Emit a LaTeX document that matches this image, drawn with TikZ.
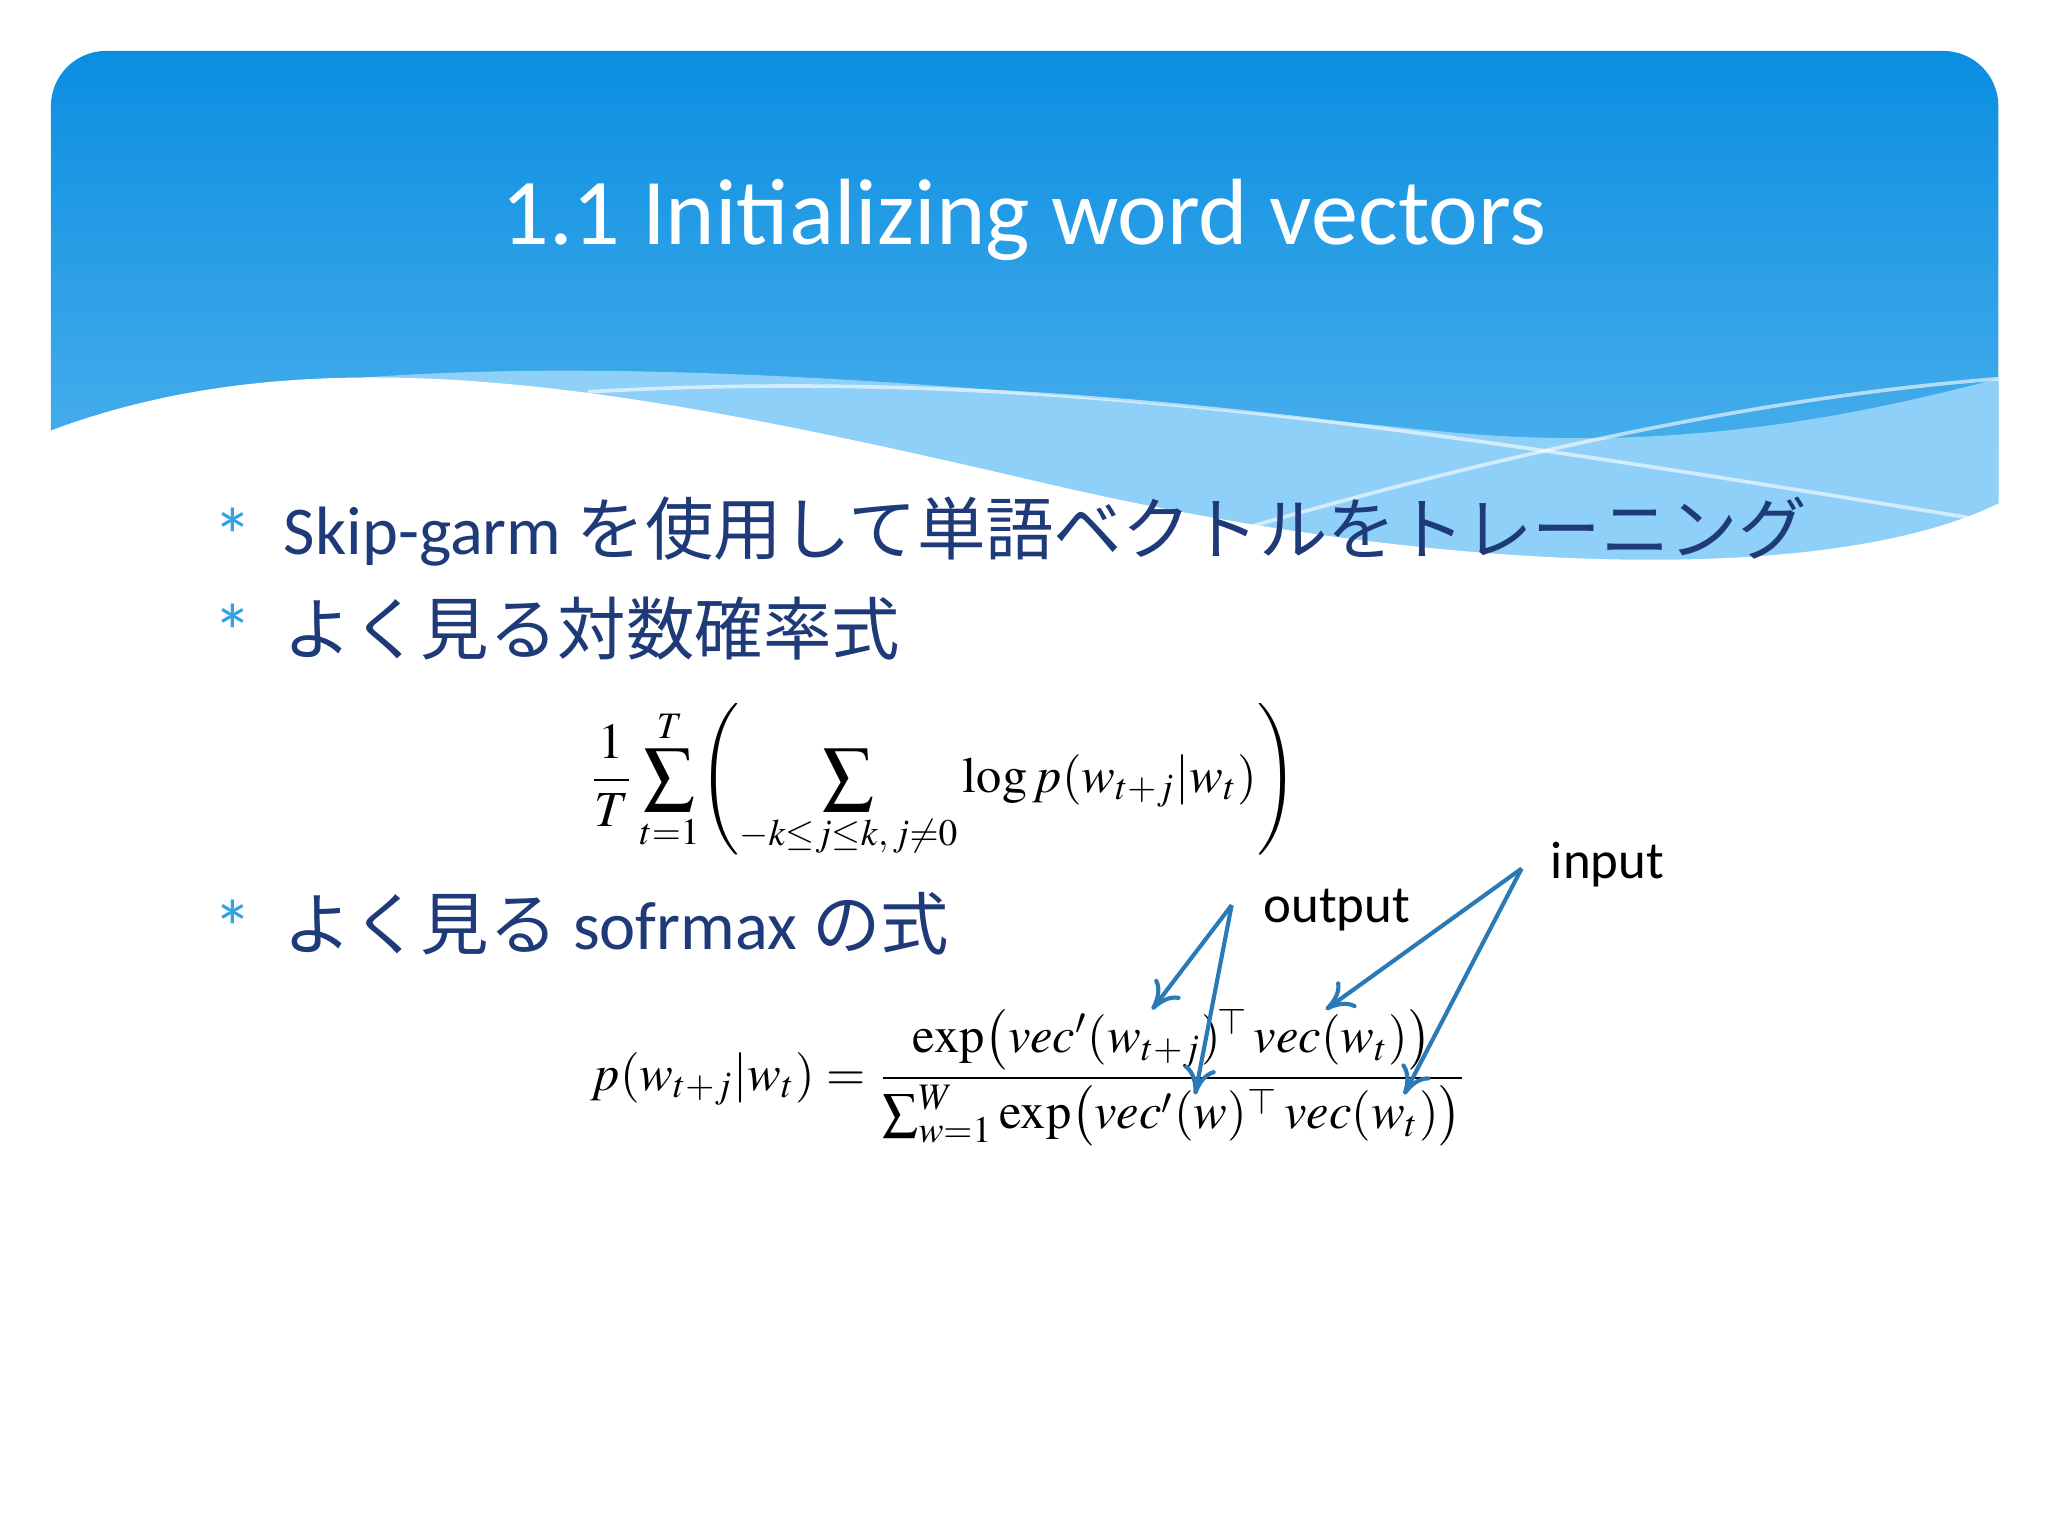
\documentclass[tikz,border=0pt]{standalone}
\usepackage{amsmath}
\usepackage{mathptmx}
\usepackage[no-math]{fontspec}
\setmainfont{Carlito}
\newfontfamily\jp{Noto Sans CJK JP}
\usetikzlibrary{arrows.meta}
\definecolor{hdrtop}{HTML}{0A8EE0}
\definecolor{hdrbot}{HTML}{5BB8F0}
\definecolor{band}{HTML}{8FD0F8}
\definecolor{txt}{HTML}{1F3A78}
\definecolor{bul}{HTML}{2FA3E6}
\definecolor{arr}{HTML}{2A7AB8}
\tikzset{
  bullet/.style={anchor=center,text=bul,font=\fontsize{17}{17}\selectfont},
  btext/.style={anchor=west,text=txt,font=\jp\fontsize{14.9}{17}\selectfont},
  eq/.style={anchor=center,font=\fontsize{11}{13}\selectfont},
  lab/.style={anchor=west,font=\fontsize{11.5}{14}\selectfont},
  conn/.style={arr,line width=0.9pt,-{To[length=6pt,width=7pt]}}
}
\begin{document}
\begin{tikzpicture}[x=0.01cm,y=-0.01cm]
\useasboundingbox (0,0) rectangle (1568,1176);
\fill[white] (0,0) rectangle (1568,1176);
% header
\shade[top color=hdrtop,bottom color=hdrbot,rounded corners=12pt]
  (39,450) -- (39,39) -- (1530,39) -- (1530,450) -- cycle;
\fill[band] (39,450) -- (39,330) .. controls (300,250) and (700,290) .. (1100,330)
  .. controls (1300,350) and (1450,310) .. (1530,290) -- (1530,450) -- cycle;
\fill[white] (38,460) -- (38,330) .. controls (250,250) and (500,300) .. (800,370)
  .. controls (1100,440) and (1400,450) .. (1531,385) -- (1531,460) -- cycle;
\draw[white,opacity=0.6,line width=0.8pt] (450,300) .. controls (800,280) and (1100,330) .. (1530,400);
\draw[white,opacity=0.6,line width=0.8pt] (900,420) .. controls (1200,330) and (1400,300) .. (1530,290);
\node[text=white,font=\fontsize{20.5}{24}\selectfont] (title) at (784,168) {1.1 Initializing word vectors};
% bullets
\node[bullet] (b1) at (178,410) {*};
\node[btext] (t1) at (205,407) {\rmfamily Skip-garm\ \jp を使用して単語ベクトルをトレーニング};
\node[bullet] (b2) at (178,484) {*};
\node[btext] (t2) at (205,481) {よく見る対数確率式};
\node[bullet] (b3) at (178,710) {*};
\node[btext] (t3) at (205,707) {よく見る\ {\rmfamily sofrmax}\ の式};
% formulas
\node[eq] (f1) at (722,598) {$\displaystyle \frac{1}{T}\sum_{t=1}^{T}\Biggl(\sum_{-k\le j\le k,\,j\neq 0}\log p(w_{t+j}|w_t)\Biggr)$};
\node[eq] (f2) at (788,825) {$\displaystyle p(w_{t+j}|w_t)=\frac{\exp\bigl(\mathit{vec}'(w_{t+j})^{\!\top}\,\mathit{vec}(w_t)\bigr)}{\sum_{w=1}^{W}\exp\bigl(\mathit{vec}'(w)^{\top}\,\mathit{vec}(w_t)\bigr)}$};
% labels & arrows
\node[lab] (out) at (955,697) {output};
\node[lab] (in) at (1175,662) {input};
\coordinate (po) at (943,693);
\coordinate (pi) at (1165,665);
\coordinate (o1) at (882,773);
\coordinate (o2) at (915,838);
\coordinate (i1) at (1015,773);
\coordinate (i2) at (1075,838);
\draw[conn] (po) -- (o1);
\draw[conn] (po) -- (o2);
\draw[conn] (pi) -- (i1);
\draw[conn] (pi) -- (i2);
\end{tikzpicture}
\end{document}
